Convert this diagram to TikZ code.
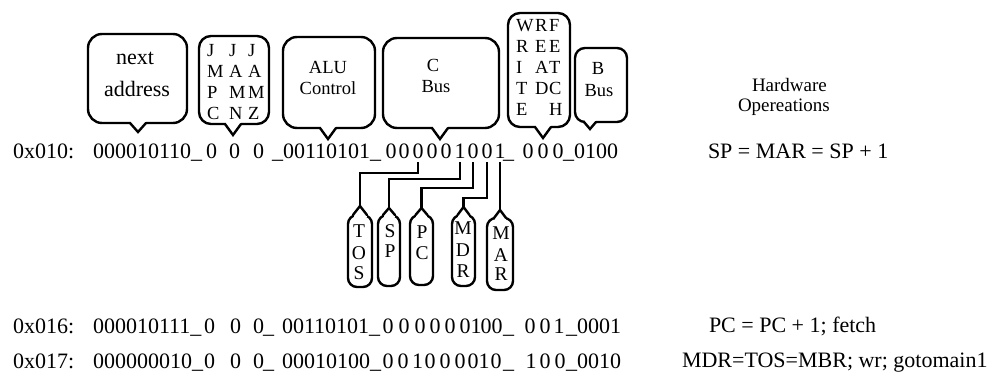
\documentclass[tikz,border=0pt]{standalone}
\usepackage{fontspec}
\setmainfont{Liberation Serif}

% callout pointer below a box: node, x offset, depth, half width
\newcommand\dnotch[4]{%
  \fill[white] ([xshift=#2pt-#4pt+0.5pt,yshift=1.8pt]#1.south) rectangle ([xshift=#2pt+#4pt-0.5pt,yshift=-1.8pt]#1.south);
  \draw[notchline] ([xshift=#2pt-#4pt]#1.south) -- ([xshift=#2pt,yshift=-#3pt]#1.south) -- ([xshift=#2pt+#4pt]#1.south);
}
% pointer above a box: node, height, half width; also defines <node>-tip
\newcommand\unotch[3]{%
  \fill[white] ([xshift=-#3pt+0.5pt,yshift=1.8pt]#1.north) rectangle ([xshift=#3pt-0.5pt,yshift=-1.8pt]#1.north);
  \draw[notchline] ([xshift=-#3pt]#1.north) -- ([yshift=#2pt]#1.north) -- ([xshift=#3pt]#1.north);
  \coordinate (#1-tip) at ([yshift=#2pt]#1.north);
}

\begin{document}
\begin{tikzpicture}[x=1pt,y=-1pt,
  big/.style={font=\fontsize{22}{24}\selectfont, inner sep=0pt, outer sep=0pt},
  mid/.style={font=\fontsize{18.5}{20}\selectfont, inner sep=0pt, outer sep=0pt},
  reg/.style={font=\fontsize{19.5}{20}\selectfont, inner sep=0pt, outer sep=0pt},
  hw/.style={font=\fontsize{19}{20}\selectfont, inner sep=0pt, outer sep=0pt},
  bub/.style={draw, line width=2.4pt, rounded corners=14pt, outer sep=0pt, inner sep=0pt},
  tag/.style={draw, line width=2.4pt, rounded corners=9pt, outer sep=0pt, inner sep=0pt},
  notchline/.style={line width=2.4pt, line cap=round, line join=miter},
  wire/.style={line width=2.8pt, shorten <=3pt}]
\useasboundingbox (0,0) rectangle (999,379);

% ---------- field callouts above the first microinstruction ----------
\node[bub, minimum width=99pt, minimum height=89pt] (nxt) at (137.5,78.5) {};
\node[bub, rounded corners=12pt, minimum width=70pt, minimum height=88pt] (jam) at (234,80) {};
\node[bub, minimum width=92pt, minimum height=91pt] (alu) at (329,82.5) {};
\node[bub, minimum width=116pt, minimum height=90pt] (cbus) at (441,83) {};
\node[bub, rounded corners=12pt, minimum width=62pt, minimum height=114pt] (mem) at (539,70) {};
\node[bub, rounded corners=10pt, minimum width=52pt, minimum height=74pt] (bbus) at (601,85) {};
\dnotch{nxt}{0.5}{9}{8}
\dnotch{jam}{-1}{11}{8}
\dnotch{alu}{-1}{11}{8}
\dnotch{cbus}{-1}{11}{8}
\dnotch{mem}{4}{11}{8}
\dnotch{bbus}{-11}{7}{6}

\node[big, anchor=base] (t-next) at (135,65) {next};
\node[big, anchor=base] (t-addr) at (137,97) {address};
\node[mid, anchor=base] (t-alu) at (328,74) {ALU};
\node[mid, anchor=base] (t-ctl) at (328,95) {Control};
\node[mid, anchor=base] (t-c) at (433,72) {C};
\node[mid, anchor=base] (t-cbus) at (436,93) {Bus};
\node[mid, anchor=base] (t-b) at (598,75) {B};
\node[mid, anchor=base] (t-bbus) at (599,97) {Bus};

% JMPC / JAMN / JAMZ written downwards
\foreach \c [count=\i] in {J,M,P,C}
  \node[mid, anchor=base west] (ja-\i) at (207,{57+21*(\i-1)}) {\c};
\foreach \c [count=\i] in {J,A,M,N}
  \node[mid, anchor=base west] (jb-\i) at (229,{57+21*(\i-1)}) {\c};
\foreach \c [count=\i] in {J,A,M,Z}
  \node[mid, anchor=base west] (jc-\i) at (248,{57+21*(\i-1)}) {\c};

% WRITE / READ / FETCH written downwards
\foreach \c [count=\i] in {W,R,I,T,E}
  \node[mid, anchor=base west] (wa-\i) at (516,{32+21*(\i-1)}) {\c};
\foreach \c [count=\i] in {R,E,A,D}
  \node[mid, anchor=base west] (wb-\i) at (535,{32+21*(\i-1)}) {\c};
\foreach \c [count=\i] in {F,E,T,C,H}
  \node[mid, anchor=base west] (wc-\i) at (549,{32+21*(\i-1)}) {\c};

% ---------- microinstruction 0x010 ----------
\node[big, anchor=base west] (r1-addr) at (13,159) {0x010:};
\node[big, anchor=base west] (r1-next) at (93,159) {000010110\_};
\foreach \x [count=\i] in {206,229,253}
  \node[big, anchor=base west] (r1-j\i) at (\x,159) {0};
\node[big, anchor=base west] (r1-alu) at (272,159) {\_00110101\_};
\foreach \x/\d [count=\i] in {391/0,404/0,418/0,432/0,446/0,460/1,473/0,487/0,500/1}
  \node[big, anchor=base] (b\i) at (\x,159) {\d};
\node[big, anchor=base west] (r1-u) at (503,159) {\_};
\foreach \x [count=\i] in {528,543,558}
  \node[big, anchor=base] (r1-m\i) at (\x,159) {0};
\node[big, anchor=base west] (r1-b) at (563,159) {\_0100};

% ---------- C bus registers ----------
\node[tag, minimum width=24pt, minimum height=72pt] (tos) at (360,251) {};
\node[tag, minimum width=22pt, minimum height=71pt] (sp) at (389,250.5) {};
\node[tag, minimum width=23pt, minimum height=70pt] (pc) at (421.5,250) {};
\node[tag, minimum width=23pt, minimum height=71pt] (mdr) at (463.5,250.5) {};
\node[tag, minimum width=26pt, minimum height=72pt] (mar) at (500,254) {};
\unotch{tos}{9}{7}
\unotch{sp}{7}{6}
\unotch{pc}{7}{6}
\unotch{mdr}{8}{6}
\unotch{mar}{8}{6}

\foreach \c/\y [count=\i] in {T/238,O/260,S/280}
  \node[reg, anchor=base] (tos-\i) at (359,\y) {\c};
\foreach \c/\y [count=\i] in {S/238,P/258}
  \node[reg, anchor=base] (sp-\i) at (390,\y) {\c};
\foreach \c/\y [count=\i] in {P/239,C/260}
  \node[reg, anchor=base] (pc-\i) at (422,\y) {\c};
\foreach \c/\y [count=\i] in {M/235,D/257,R/278}
  \node[reg, anchor=base] (mdr-\i) at (463,\y) {\c};
\foreach \c/\y [count=\i] in {M/240,A/262,R/281}
  \node[reg, anchor=base] (mar-\i) at (501,\y) {\c};

% wires from the C bus bits to their registers
\draw[wire] (b3.south) -- (b3.south |- 0,173) -| (tos-tip);
\draw[wire] (b6.south) -- (b6.south |- 0,179) -| (sp-tip);
\draw[wire] (b7.south) -- (b7.south |- 0,188) -| (pc-tip);
\draw[wire] (b8.south) -- (b8.south |- 0,198) -| (mdr-tip);
\draw[wire] (b9.south) -- (b9.south |- mar-tip);

% ---------- microinstructions 0x016 and 0x017 ----------
\node[big, anchor=base west] (r2-addr) at (13,334) {0x016:};
\node[big, anchor=base west] (r2-next) at (93,334) {000010111\_};
\foreach \x [count=\i] in {204,230,253}
  \node[big, anchor=base west] (r2-j\i) at (\x,334) {0};
\node[big, anchor=base west] (r2-u) at (263,334) {\_};
\node[big, anchor=base west] (r2-alu) at (282,334) {00110101\_};
\foreach \x/\d [count=\i] in {388/0,404/0,420/0,435/0,450/0,465/0,476/1,486/0,497/0}
  \node[big, anchor=base] (c\i) at (\x,334) {\d};
\node[big, anchor=base west] (r2-v) at (503,334) {\_};
\foreach \x/\d [count=\i] in {530/0,545/0,559/1}
  \node[big, anchor=base] (r2-m\i) at (\x,334) {\d};
\node[big, anchor=base west] (r2-b) at (566,334) {\_0001};

\node[big, anchor=base west] (r3-addr) at (13,369) {0x017:};
\node[big, anchor=base west] (r3-next) at (93,369) {000000010\_};
\foreach \x [count=\i] in {204,230,253}
  \node[big, anchor=base west] (r3-j\i) at (\x,369) {0};
\node[big, anchor=base west] (r3-u) at (263,369) {\_};
\node[big, anchor=base west] (r3-alu) at (282,369) {00010100\_};
\foreach \x/\d [count=\i] in {388/0,403/0,417.5/1,430/0,445/0,460/0,473/0,484/1,496/0}
  \node[big, anchor=base] (d\i) at (\x,369) {\d};
\node[big, anchor=base west] (r3-v) at (503,369) {\_};
\foreach \x/\d [count=\i] in {531/1,545/0,560/0}
  \node[big, anchor=base] (r3-m\i) at (\x,369) {\d};
\node[big, anchor=base west] (r3-b) at (566,369) {\_0010};

% ---------- hardware operations ----------
\node[hw, anchor=base west] (h1) at (752,92) {Hardware};
\node[hw, anchor=base west] (h2) at (738,112) {Opereations};
\node[big, anchor=base west] (op1) at (708,159) {SP = MAR = SP + 1};
\node[big, anchor=base west] (op2) at (709,333) {PC = PC + 1; fetch};
\node[big, anchor=base west] (op3) at (682,367) {MDR=TOS=MBR; wr; gotomain1};
\end{tikzpicture}
\end{document}
